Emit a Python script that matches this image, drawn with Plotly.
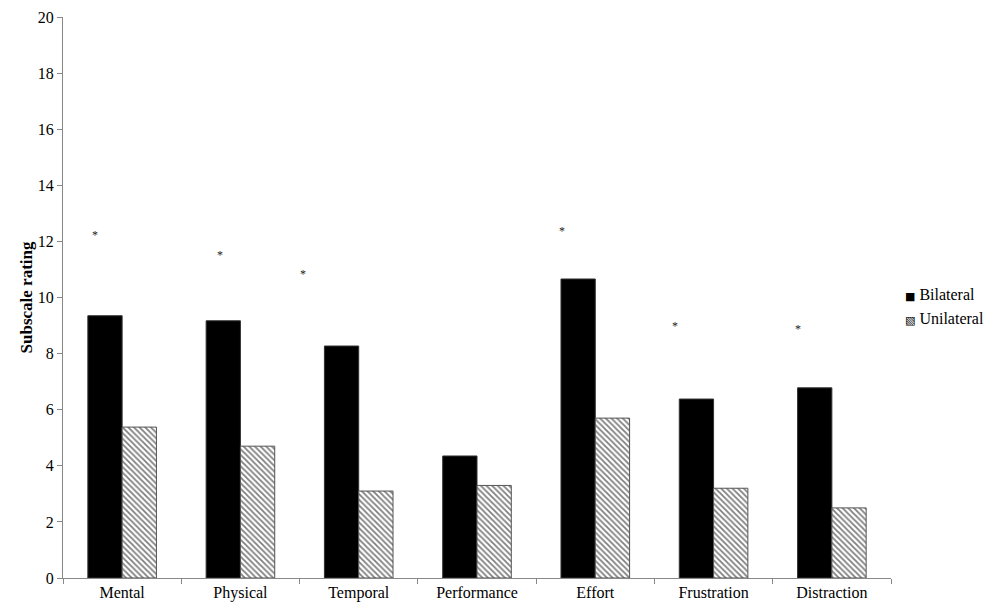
import plotly.graph_objects as go

categories = ["Mental", "Physical", "Temporal", "Performance", "Effort", "Frustration", "Distraction"]
bilateral = [9.35, 9.17, 8.27, 4.35, 10.66, 6.38, 6.78]
unilateral = [5.38, 4.7, 3.1, 3.3, 5.7, 3.2, 2.5]
series_names = ["Bilateral", "Unilateral"]
series_symbols = ["\u25A0", "\u25A7"]
star_cats = ["Mental", "Physical", "Temporal", "Effort", "Frustration", "Distraction"]
star_y = [12.23, 11.5, 10.85, 12.37, 9.0, 8.88]
star_xshift = [-27, -20, -56, -33, -39, -34]

# the page shows the figure offset by the 8px body margin
W, H = 988, 601
L, R, T, B = 55, 105, 9, 31
pw, ph = W - L - R, H - T - B
SERIF = "Liberation Serif, Times New Roman, serif"

fig = go.Figure()
fig.add_trace(go.Bar(
    x=categories, y=bilateral, name=series_names[0],
    marker=dict(color="black", line=dict(color="#333333", width=1)),
))
fig.add_trace(go.Bar(
    x=categories, y=unilateral, name=series_names[1],
    marker=dict(color="white", line=dict(color="#555555", width=1),
                pattern=dict(shape="\\", fgcolor="black", bgcolor="white",
                             size=4, solidity=0.45)),
))

for c, yv, xs in zip(star_cats, star_y, star_xshift):
    fig.add_annotation(x=c, y=yv, xref="x", yref="y", text="*", showarrow=False,
                       xshift=xs, font=dict(size=12, color="#222222", family=SERIF))

# manual legend
leg_y = [0.5045, 0.4617]
for name, sym, ly in zip(series_names, series_symbols, leg_y):
    fig.add_annotation(
        x=(895 - L) / pw, y=ly, xref="paper", yref="paper", xanchor="left", yanchor="middle",
        showarrow=False,
        text=f"<span style='font-size:11px;font-family:DejaVu Sans'>{sym}</span> {name}",
        font=dict(size=16, color="black", family=SERIF),
    )

# thin beige frame strip at the right edge
fig.add_shape(type="rect", xref="paper", yref="paper",
              x0=(985 - L) / pw, x1=(W + 5 - L) / pw,
              y0=-B / ph - 0.05, y1=(ph + T) / ph + 0.05,
              fillcolor="#f4f1ed", line=dict(width=0), layer="below")

fig.update_layout(
    width=W, height=H,
    margin=dict(l=L, r=R, t=T, b=B, autoexpand=False),
    paper_bgcolor="white", plot_bgcolor="white",
    barmode="group", bargap=0.42, bargroupgap=0,
    font=dict(family=SERIF, size=16, color="black"),
    showlegend=False,
)
fig.update_xaxes(
    automargin=False,
    showline=True, linecolor="#888888", linewidth=1,
    ticks="outside", tickson="boundaries", ticklen=5, tickcolor="#888888",
    showgrid=False, tickfont=dict(size=16, family=SERIF),
)
fig.update_yaxes(
    automargin=False,
    range=[0, 20], dtick=2, showline=True, linecolor="#888888", linewidth=1,
    ticks="outside", ticklen=5, tickcolor="#888888", showgrid=False, zeroline=False,
    tickfont=dict(size=16, family=SERIF),
    title=dict(text="<b>Subscale rating</b>", font=dict(size=17, family=SERIF), standoff=0),
)

fig.write_html("out.html")
